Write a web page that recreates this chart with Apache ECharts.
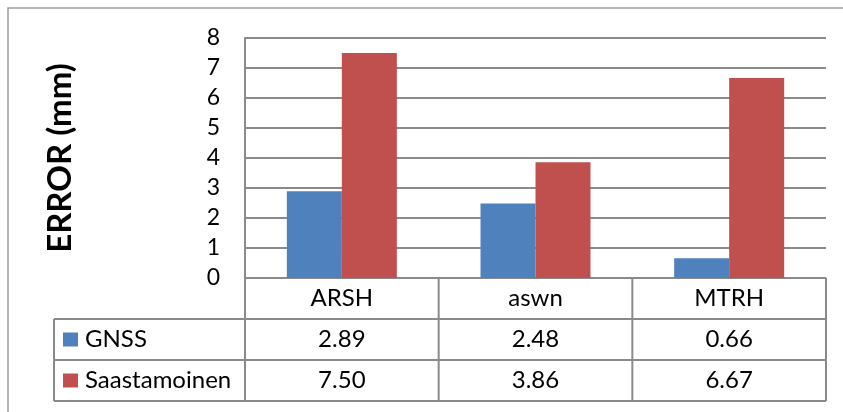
<!DOCTYPE html>
<html>
<head>
    <meta charset="utf-8">
    <title>ERROR (mm)</title>
    <script src="https://cdn.jsdelivr.net/npm/echarts@6/dist/echarts.min.js"></script>
    <style>
        html, body { margin: 0; padding: 0; background: #fff; }
        #chart1 { width: 843px; height: 412px; }
    </style>
</head>
<body>
<div id="chart1"></div>
<script type="text/javascript">
    // 数据
    var stations = ['ARSH', 'aswn', 'MTRH'];
    var seriesNames = ['GNSS', 'Saastamoinen'];
    var gnss = [2.89, 2.48, 0.66];
    var saastamoinen = [7.50, 3.86, 6.67];
    var tableText = [['2.89', '2.48', '0.66'], ['7.50', '3.86', '6.67']];
    var colors = ['#4F81BD', '#C0504D'];

    var font = 'Lato, "Liberation Sans", sans-serif';
    var lineColor = '#8a8a8a';

    var myChart1 = echarts.init(document.getElementById('chart1'));

    var option = {
        animation: false,
        backgroundColor: '#fff',
        grid: { left: 245, right: 17, top: 38, bottom: 134 },
        xAxis: {
            type: 'category',
            data: stations,
            axisLine: { show: false },
            axisTick: { show: false },
            axisLabel: { show: false }
        },
        yAxis: {
            type: 'value',
            min: 0, max: 8, interval: 1,
            name: 'ERROR (mm)',
            nameLocation: 'middle',
            nameGap: 162,
            nameRotate: 90,
            nameTextStyle: { fontFamily: font, fontSize: 33, fontWeight: 'bold', color: '#000', padding: [0, 0, 6, 0] },
            axisLine: { show: true, lineStyle: { color: lineColor, width: 2 } },
            axisTick: { show: false },
            axisLabel: { margin: 25, fontFamily: font, fontSize: 23, color: '#000' },
            splitLine: { lineStyle: { color: lineColor, width: 2 } }
        },
        series: [
            {
                name: seriesNames[0], type: 'bar', data: gnss,
                barWidth: 55, barGap: '0%',
                itemStyle: { color: colors[0] }
            },
            {
                name: seriesNames[1], type: 'bar', data: saastamoinen,
                barWidth: 55,
                itemStyle: { color: colors[1] }
            }
        ]
    };
    myChart1.setOption(option);

    // 数据表（图下方）
    var y0 = myChart1.convertToPixel({ yAxisIndex: 0 }, 0);
    var left = 245, right = 826, legendLeft = 54, rowH = 41;
    var colW = (right - left) / stations.length;
    var els = [];
    var ls = { stroke: lineColor, lineWidth: 2 };

    // 外框
    els.push({ type: 'polyline', shape: { points: [[8, 412], [8, 8], [843, 8]] }, style: { stroke: '#a0a0a0', lineWidth: 1.5, fill: null } });

    // 横线
    els.push({ type: 'line', shape: { x1: left, y1: y0, x2: right, y2: y0 }, style: ls });
    for (var r = 1; r <= 3; r++) {
        els.push({ type: 'line', shape: { x1: legendLeft, y1: y0 + rowH * r, x2: right, y2: y0 + rowH * r }, style: ls });
    }
    // 竖线
    els.push({ type: 'line', shape: { x1: legendLeft, y1: y0 + rowH, x2: legendLeft, y2: y0 + rowH * 3 }, style: ls });
    for (var c = 0; c <= stations.length; c++) {
        els.push({ type: 'line', shape: { x1: left + colW * c, y1: y0, x2: left + colW * c, y2: y0 + rowH * 3 }, style: ls });
    }

    var ts = function (txt, x, y, align) {
        return {
            type: 'text', x: x, y: y,
            style: { text: txt, fontFamily: font, fontSize: 24, fill: '#000', align: align || 'center', verticalAlign: 'middle' }
        };
    };
    stations.forEach(function (s, i) {
        var cx = myChart1.convertToPixel({ xAxisIndex: 0 }, s);
        els.push(ts(s, cx, y0 + rowH / 2));
        tableText.forEach(function (row, k) {
            els.push(ts(row[i], cx, y0 + rowH * (k + 1.5)));
        });
    });
    seriesNames.forEach(function (n, k) {
        var cy = y0 + rowH * (k + 1.5);
        els.push({ type: 'rect', shape: { x: 63, y: cy - 7, width: 15, height: 14 }, style: { fill: colors[k] } });
        els.push(ts(n, 85, cy, 'left'));
    });

    myChart1.setOption({ graphic: { elements: els } });
</script>
</body>
</html>
